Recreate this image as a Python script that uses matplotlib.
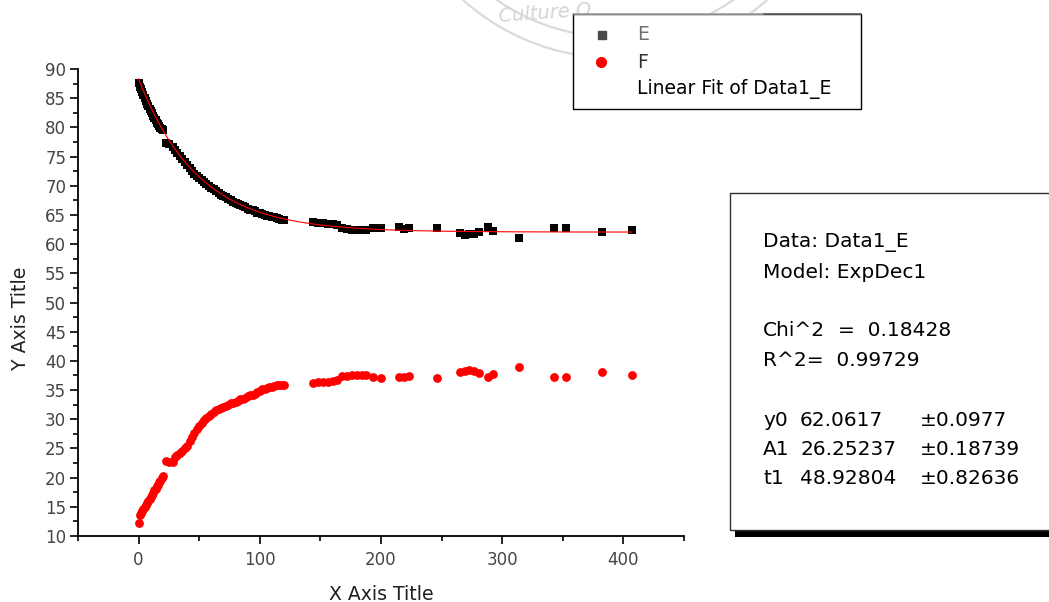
import matplotlib
matplotlib.use('Agg')
import matplotlib.pyplot as plt
import numpy as np
from matplotlib.patches import Rectangle, Circle
from matplotlib.lines import Line2D

plt.rcParams['font.family'] = ['DejaVu Sans']

# shared x values for both series
x_vals = [0, 1, 2, 3, 4, 5, 6, 7, 8, 9, 10, 11, 12, 13, 14, 15, 16, 17, 18, 19, 20,
          23, 25, 28, 30, 32, 34, 36, 38, 40, 42, 44, 46, 48, 50, 52, 54, 56, 58, 60,
          62, 64, 66, 68, 70, 72, 74, 76, 78, 80, 82, 84, 86, 88, 90, 92, 94, 96, 98, 100,
          102, 104, 106, 108, 110, 112, 114, 116, 118, 120,
          144, 148, 152, 156, 160, 164, 168, 172, 176, 180, 184, 188, 193, 200,
          215, 219, 223, 246, 265, 269, 273, 277, 281, 288, 292, 314, 343, 353, 382, 407]

e_vals = [87.6, 87.0, 86.5, 86.0, 85.5, 85.0, 84.5, 84.0, 83.6, 83.2, 82.8, 82.4, 82.0, 81.6,
          81.2, 80.8, 80.5, 80.2, 79.9, 79.7, 79.5,
          77.3, 77.2, 76.7, 76.1, 75.6, 75.1, 74.5, 74.0, 73.5, 73.0, 72.5, 72.0, 71.7, 71.4,
          71.0, 70.6, 70.3, 70.0, 69.7, 69.4, 69.1, 68.8, 68.5, 68.2, 68.0, 67.7, 67.5, 67.3,
          67.1, 66.9, 66.7, 66.5, 66.3, 66.1, 65.9, 65.8, 65.6, 65.4, 65.3, 65.1, 65.0, 64.9,
          64.8, 64.7, 64.6, 64.4, 64.3, 64.2, 64.1,
          63.8, 63.7, 63.6, 63.5, 63.4, 63.2, 62.7, 62.6, 62.5, 62.5, 62.4, 62.5, 62.7, 62.8,
          62.9, 62.6, 62.7, 62.8, 61.9, 61.6, 61.7, 61.8, 62.1, 62.9, 62.3, 61.0, 62.8, 62.7,
          62.0, 62.5]

f_vals = [12.2, 13.6, 13.9, 14.3, 14.6, 15.0, 15.3, 15.7, 16.0, 16.4, 16.7, 17.1, 17.4, 17.8,
          18.1, 18.5, 18.8, 19.2, 19.5, 19.9, 20.2,
          22.8, 22.7, 22.6, 23.5, 23.9, 24.3, 24.6, 25.0, 25.4, 26.2, 27.0, 27.6, 28.3, 28.9,
          29.4, 29.8, 30.2, 30.6, 30.9, 31.2, 31.5, 31.7, 31.9, 32.1, 32.3, 32.5, 32.7, 32.8,
          33.0, 33.2, 33.4, 33.5, 33.7, 33.9, 34.1, 34.2, 34.4, 34.6, 34.9, 35.1, 35.2, 35.4,
          35.5, 35.6, 35.7, 35.8, 35.8, 35.9, 35.9,
          36.2, 36.3, 36.4, 36.4, 36.5, 36.8, 37.4, 37.4, 37.5, 37.5, 37.6, 37.5, 37.3, 37.1,
          37.2, 37.3, 37.4, 37.1, 38.1, 38.3, 38.4, 38.3, 37.9, 37.2, 37.8, 38.9, 37.2, 37.3,
          38.1, 37.5]

# fit parameters (ExpDec1) as printed in the chart
y0, a1, t1 = 62.0617, 26.25237, 48.92804

stat_lines = ['Data: Data1_E', 'Model: ExpDec1']
chi_text, r2_text = '0.18428', '0.99729'
param_names = ['y0', 'A1', 't1']
param_values = ['62.0617', '26.25237', '48.92804']
param_errors = ['\u00b10.0977', '\u00b10.18739', '\u00b10.82636']

W, H = 1049, 602
fig = plt.figure(figsize=(W / 100, H / 100), dpi=100)


def fx(px):
    return px / W


def fy(py):
    return 1 - py / H


ax = fig.add_axes([fx(78), fy(536), (684 - 78) / W, (536 - 69) / H])
ax.scatter(x_vals, e_vals, marker='s', s=32, color='black', linewidths=0, zorder=3)
ax.scatter(x_vals, f_vals, marker='o', s=40, color='#ff0000', linewidths=0, zorder=3)

xfit = np.linspace(0, max(x_vals), 400)
ax.plot(xfit, y0 + a1 * np.exp(-xfit / t1), color='#ff0000', lw=0.8, zorder=4)

ax.set_xlim(-50, 450)
ax.set_ylim(10, 90)
ax.set_xticks(range(0, 401, 100))
ax.set_xticks(range(-50, 451, 50), minor=True)
ax.set_yticks(range(10, 91, 5))
ax.set_yticks(np.arange(12.5, 90, 5), minor=True)
for s in ['top', 'right']:
    ax.spines[s].set_visible(False)
for s in ['left', 'bottom']:
    ax.spines[s].set_linewidth(1.3)
ax.tick_params(which='major', length=6, width=1.2, labelsize=12, labelcolor='#454545')
ax.tick_params(which='minor', length=3.5, width=1.2)
ax.tick_params(axis='y', pad=2.5)
ax.tick_params(axis='x', pad=5)
ax.patch.set_alpha(0)

fig.text(fx(381), fy(594), 'X Axis Title', ha='center', va='center', fontsize=13.6,
         color='#202020')
fig.text(fx(21), fy(318), 'Y Axis Title', ha='center', va='center', fontsize=13.6,
         color='#202020', rotation=90)

# faint watermark stamp at the top
for r in [207, 228]:
    fig.add_artist(Circle((615, 602 + 170), r, transform=None, fill=False,
                          edgecolor='#dadada', lw=1.6, zorder=0))
fig.text(fx(545), fy(13), 'Culture O', ha='center', va='center', fontsize=14,
         color='#d4d4d4', rotation=4, style='italic', zorder=0)

# legend box
fig.add_artist(Rectangle((fx(573), fy(109)), fx(861) - fx(573), fy(14) - fy(109),
                         transform=fig.transFigure, facecolor='white', edgecolor='black',
                         lw=1.0, zorder=5))
fig.add_artist(Line2D([fx(573), fx(764)], [fy(14), fy(14)], transform=fig.transFigure,
                      color='#a8a8a8', lw=1.2, zorder=6))
fig.add_artist(Line2D([fx(764), fx(861)], [fy(14), fy(14)], transform=fig.transFigure,
                      color='#606060', lw=1.2, zorder=6))
fig.add_artist(Line2D([fx(602)], [fy(35)], transform=fig.transFigure, marker='s',
                      markersize=6, color='#4a4a4a', lw=0, zorder=6))
fig.add_artist(Line2D([fx(601)], [fy(62)], transform=fig.transFigure, marker='o',
                      markersize=7, color='#ff0000', lw=0, zorder=6))
fig.text(fx(637), fy(35), 'E', va='center', fontsize=13.5, color='#707070', zorder=7)
fig.text(fx(637), fy(62), 'F', va='center', fontsize=13.5, color='#303030', zorder=7)
fig.text(fx(637), fy(89), 'Linear Fit of Data1_E', va='center', fontsize=13.5,
         color='black', zorder=7)

# fit statistics box with shadow
fig.add_artist(Rectangle((fx(735), fy(537)), fx(1060) - fx(735), fy(530) - fy(537),
                         transform=fig.transFigure, facecolor='black', edgecolor='none', zorder=5))
fig.add_artist(Rectangle((fx(730), fy(530)), fx(1060) - fx(730), fy(193) - fy(530),
                         transform=fig.transFigure, facecolor='white', edgecolor='#303030',
                         lw=1.0, zorder=6))
ts = 14.5
fig.text(fx(763), fy(243), stat_lines[0], va='center', fontsize=ts, zorder=7)
fig.text(fx(763), fy(272), stat_lines[1], va='center', fontsize=ts, zorder=7)
fig.text(fx(763), fy(331), 'Chi^2', va='center', fontsize=ts, zorder=7)
fig.text(fx(838), fy(331), '=  ' + chi_text, va='center', fontsize=ts, zorder=7)
fig.text(fx(763), fy(360), 'R^2=  ' + r2_text, va='center', fontsize=ts, zorder=7)
for i, (n, v, e) in enumerate(zip(param_names, param_values, param_errors)):
    yy = 420 + i * 29.5
    fig.text(fx(763), fy(yy), n, va='center', fontsize=ts, zorder=7)
    fig.text(fx(800), fy(yy), v, va='center', fontsize=ts, zorder=7)
    fig.text(fx(920), fy(yy), e, va='center', fontsize=ts, zorder=7)

fig.savefig('out.png', dpi=100)
